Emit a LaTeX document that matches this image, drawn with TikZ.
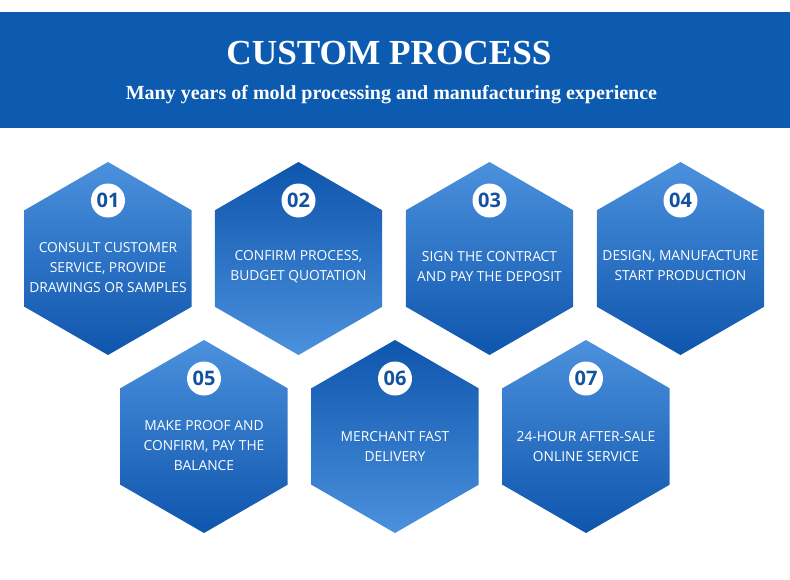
\documentclass[tikz,border=0pt]{standalone}
\usepackage{fontspec}
\setmainfont{Liberation Serif}
\newfontfamily\bodyfont{Open Sans}
\usetikzlibrary{shapes.geometric}
\definecolor{band}{HTML}{0C5BB0}
\definecolor{hexlight}{HTML}{4B91DD}
\definecolor{hexdark}{HTML}{0E55AD}
\definecolor{numblue}{HTML}{12529F}
\begin{document}
\begin{tikzpicture}[x=1pt,y=-1pt,
  hexa/.style={regular polygon, regular polygon sides=6, shape border rotate=30,
    minimum size=193pt, inner sep=0pt, outer sep=0pt},
  lighttop/.style={hexa, top color=hexlight, bottom color=hexdark},
  darktop/.style={hexa, top color=hexdark, bottom color=hexlight},
  numcircle/.style={circle, fill=white, minimum size=34pt, inner sep=0pt,
    font=\bodyfont\fontsize{20}{20}\selectfont\bfseries, text=numblue},
  steptext/.style={align=center, text=white, inner sep=0pt,
    font=\bodyfont\fontsize{13.8}{20}\selectfont}
]
\useasboundingbox (0,0) rectangle (790,579);
\node[fill=band, minimum width=790pt, minimum height=116pt, inner sep=0pt, anchor=north west] (header) at (0,12) {};
\node[text=white, font=\fontsize{35.2}{36}\selectfont\bfseries] (title) at (389,53) {CUSTOM PROCESS};
\node[text=white, font=\fontsize{20}{21}\selectfont\bfseries] (subtitle) at (391.5,94.5) {Many years of mold processing and manufacturing experience};

% row 1
\node[lighttop] (h1) at (108,258.5) {};
\node[darktop]  (h2) at (298.5,258.5) {};
\node[lighttop] (h3) at (489.5,258.5) {};
\node[lighttop] (h4) at (680.5,258.5) {};
% row 2
\node[lighttop] (h5) at (204,436.5) {};
\node[darktop]  (h6) at (395,436.5) {};
\node[lighttop] (h7) at (586,436.5) {};

\foreach \i/\n in {1/01,2/02,3/03,4/04,5/05,6/06,7/07}{
  \node[numcircle] (n\i) at ([yshift=58pt]h\i.center) {\n};
}

\node[steptext] (t1) at ([yshift=-9pt]h1.center) {CONSULT CUSTOMER\\SERVICE, PROVIDE\\DRAWINGS OR SAMPLES};
\node[steptext] (t2) at ([yshift=-8pt]h2.center) {CONFIRM PROCESS,\\BUDGET QUOTATION};
\node[steptext] (t3) at ([yshift=-8pt]h3.center) {SIGN THE CONTRACT\\AND PAY THE DEPOSIT};
\node[steptext] (t4) at ([yshift=-7pt]h4.center) {DESIGN, MANUFACTURE\\START PRODUCTION};
\node[steptext] (t5) at ([yshift=-9pt]h5.center) {MAKE PROOF AND\\CONFIRM, PAY THE\\BALANCE};
\node[steptext] (t6) at ([yshift=-10pt]h6.center) {MERCHANT FAST\\DELIVERY};
\node[steptext] (t7) at ([yshift=-10pt]h7.center) {24-HOUR AFTER-SALE\\ONLINE SERVICE};
\end{tikzpicture}
\end{document}
